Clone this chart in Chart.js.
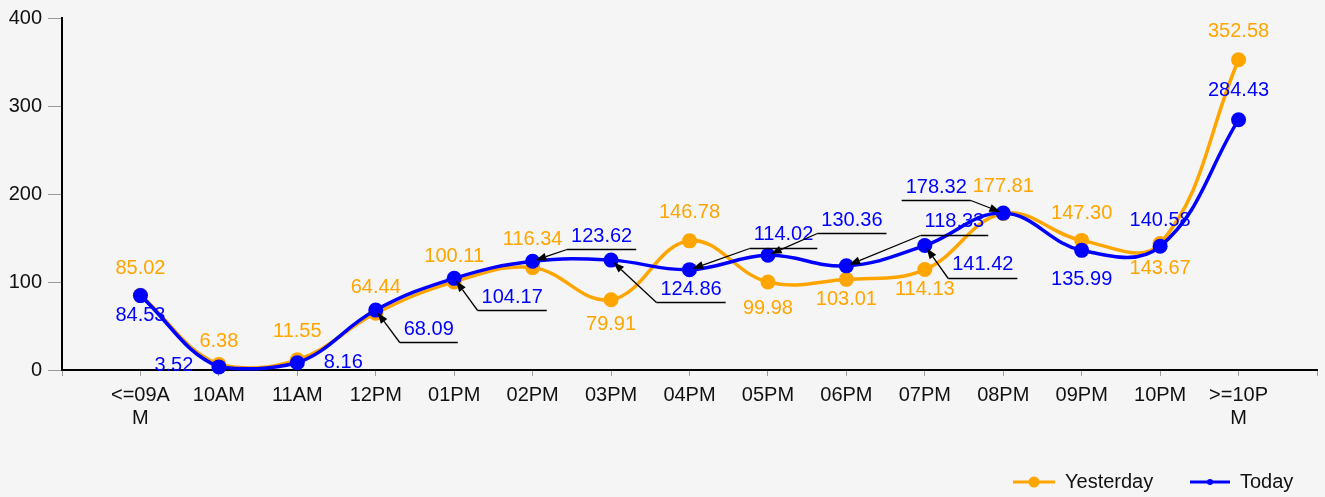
<!DOCTYPE html>
<html><head><meta charset="utf-8">
<script src="https://cdn.jsdelivr.net/npm/chart.js@4/dist/chart.umd.min.js"></script>
<style>html,body{margin:0;padding:0;background:#f5f5f5;overflow:hidden}#wrap{width:1325px;height:497px;position:relative}</style>
</head><body><div id="wrap"><canvas id="c" width="1325" height="497"></canvas></div>
<script>
const categories = [["<=09A","M"],"10AM","11AM","12PM","01PM","02PM","03PM","04PM","05PM","06PM","07PM","08PM","09PM","10PM",[">=10P","M"]];
const yesterday = [85.02,6.38,11.55,64.44,100.11,116.34,79.91,146.78,99.98,103.01,114.13,177.81,147.30,143.67,352.58];
const today = [84.53,3.52,8.16,68.09,104.17,123.62,124.86,114.02,130.36,118.33,141.42,178.32,135.99,140.58,284.43];
const yTicks = [0,100,200,300,400];
const seriesNames = ["Yesterday","Today"];
const seriesColors = ["#FFA500","#0000FF"];

const FONT = '"Liberation Sans", Arial, sans-serif';

// label placement (pixel offsets from each point): [dx, dy, callout]
const labelLayout = [
  [[0,-27],[0,-23],[0,-28],[0,-26],[0,-25],[0,-28],[0,25],[0,-28],[0,26],[0,20],[0,20],[0,-27],[0,-27],[0,25],[0,-28]],
  [[0,20],[-45,-1],[46,0],[53,19,1],[58,19,1],[69,-25,1],[80,29,1],[94,-35,1],[84,-35,1],[108,-44,1],[58,19,1],[-67,-26,1],[0,29],[0,-26],[0,-29]]
];

const toPoints = arr => arr.map((v,i)=>({x:i+1,y:v}));

const labelPlugin = {
  id:'valueLabels',
  afterDatasetsDraw(chart){
    const ctx = chart.ctx;
    ctx.save();
    ctx.font = '20px ' + FONT;
    ctx.textAlign = 'center';
    ctx.textBaseline = 'middle';
    chart.data.datasets.forEach((ds, di) => {
      const meta = chart.getDatasetMeta(di);
      meta.data.forEach((pt, i) => {
        const o = labelLayout[di][i];
        const text = ds.data[i].y.toFixed(2);
        const tx = pt.x + o[0], ty = pt.y + o[1];
        ctx.fillStyle = ds.borderColor;
        ctx.fillText(text, tx, ty);
        if (o[2]) {
          const w = ctx.measureText(text).width;
          const uy = Math.round(ty + 13) + 0.5;
          const x1 = tx - w/2 - 4, x2 = tx + w/2 + 4;
          ctx.strokeStyle = '#000';
          ctx.lineWidth = 1.3;
          ctx.beginPath(); ctx.moveTo(x1,uy); ctx.lineTo(x2,uy); ctx.stroke();
          const sx = (pt.x < tx) ? x1 : x2;
          const dx = pt.x - sx, dy = pt.y - uy;
          const len = Math.hypot(dx,dy);
          const ux = dx/len, uyv = dy/len;
          const tipX = pt.x - ux*3, tipY = pt.y - uyv*3;
          const ah = 11, aw = 4;
          const bx = tipX - ux*ah, by = tipY - uyv*ah;
          ctx.beginPath(); ctx.moveTo(sx,uy); ctx.lineTo(bx,by); ctx.stroke();
          ctx.fillStyle = '#000';
          ctx.beginPath();
          ctx.moveTo(tipX,tipY);
          ctx.lineTo(bx - uyv*aw, by + ux*aw);
          ctx.lineTo(bx + uyv*aw, by - ux*aw);
          ctx.closePath(); ctx.fill();
        }
      });
    });
    ctx.restore();
  }
};

const legendPlugin = {
  id:'customLegend',
  afterDraw(chart){
    const ctx = chart.ctx;
    ctx.save();
    const y = 482;
    const items = [
      {x0:1013, x1:1055, r:5.5, tx:1065},
      {x0:1190, x1:1230, r:3, tx:1240}
    ];
    chart.data.datasets.forEach((ds, di) => {
      const it = items[di];
      ctx.strokeStyle = ds.borderColor; ctx.lineWidth = 3;
      ctx.beginPath(); ctx.moveTo(it.x0,y); ctx.lineTo(it.x1,y); ctx.stroke();
      ctx.fillStyle = ds.borderColor;
      ctx.beginPath(); ctx.arc((it.x0+it.x1)/2, y, it.r, 0, Math.PI*2); ctx.fill();
      ctx.fillStyle = '#111';
      ctx.font = '20px ' + FONT;
      ctx.textAlign = 'left'; ctx.textBaseline = 'middle';
      ctx.fillText(ds.label, it.tx, y);
    });
    ctx.restore();
  }
};

const bg = {
  id:'bg',
  beforeDraw(chart){
    const ctx = chart.ctx;
    ctx.save(); ctx.fillStyle = '#f5f5f5'; ctx.fillRect(0,0,chart.width,chart.height); ctx.restore();
  }
};

new Chart(document.getElementById('c'), {
  type:'line',
  data:{
    datasets:[
      {label:seriesNames[0], data:toPoints(yesterday), borderColor:seriesColors[0], backgroundColor:seriesColors[0],
       borderWidth:3.5, pointRadius:7.5, pointBorderWidth:0, tension:0.4, order:1, clip:false},
      {label:seriesNames[1], data:toPoints(today), borderColor:seriesColors[1], backgroundColor:seriesColors[1],
       borderWidth:3.5, pointRadius:7.5, pointBorderWidth:0, tension:0.4, order:0, clip:false}
    ]
  },
  options:{
    responsive:false,
    animation:false,
    devicePixelRatio:1,
    events:[],
    layout:{padding:{top:18,left:0,right:7,bottom:0}},
    plugins:{legend:{display:false}, tooltip:{enabled:false}},
    scales:{
      x:{
        type:'linear', min:0, max:categories.length+1,
        afterBuildTicks(scale){ scale.ticks = Array.from({length:categories.length+2},(_,i)=>({value:i})); },
        afterFit(scale){ scale.height = 127; },
        ticks:{
          autoSkip:false, maxRotation:0, minRotation:0, padding:8,
          color:'#111', font:{size:20, family:FONT, lineHeight:1.15},
          callback:(v)=> (v>=1 && v<=categories.length) ? categories[v-1] : ''
        },
        grid:{drawOnChartArea:false, drawTicks:true, tickLength:6, color:'#999', lineWidth:1},
        border:{display:true, color:'#000', width:2}
      },
      y:{
        min:0, max:yTicks[yTicks.length-1],
        afterBuildTicks(scale){ scale.ticks = yTicks.map(v=>({value:v})); },
        afterFit(scale){ scale.width = 62; },
        ticks:{padding:6, color:'#111', font:{size:20, family:FONT}},
        grid:{drawOnChartArea:false, drawTicks:true, tickLength:14, color:'#999', lineWidth:1},
        border:{display:true, color:'#000', width:2}
      }
    }
  },
  plugins:[bg, labelPlugin, legendPlugin]
});
</script>
</body></html>
